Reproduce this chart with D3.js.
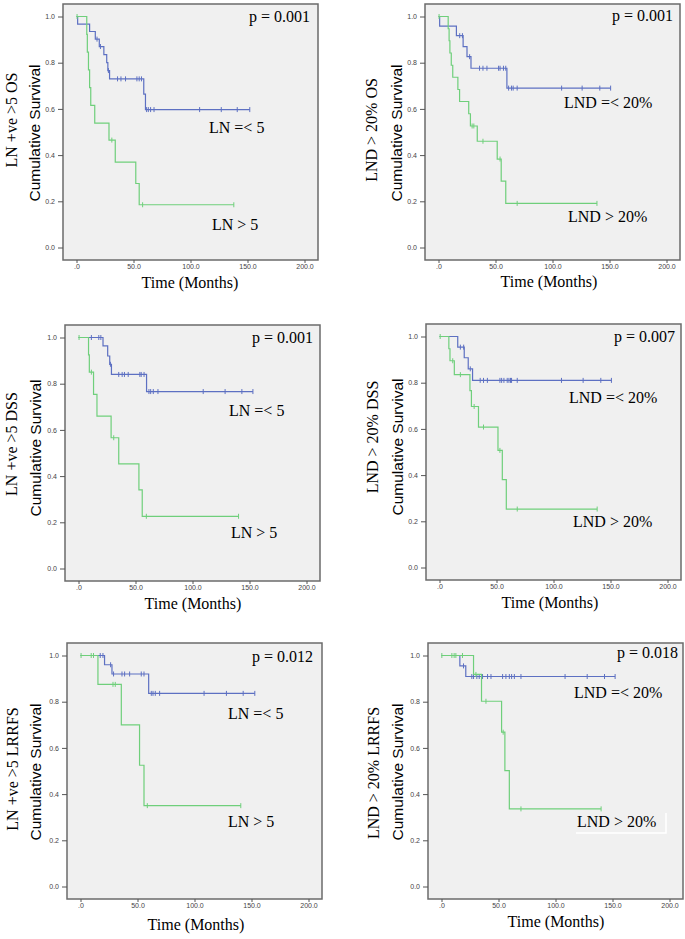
<!DOCTYPE html>
<html>
<head>
<meta charset="utf-8">
<script src="https://cdn.jsdelivr.net/npm/d3@7/dist/d3.min.js"></script>
<style>
  body { margin: 0; background: #fff; }
  svg { display: block; }
</style>
</head>
<body>
<svg id="chart" width="685" height="939"></svg>
<script>
// axis ticks
var timeTicks = [0, 50, 100, 150, 200];
var survTicks = [0, 0.2, 0.4, 0.6, 0.8, 1.0];

// panel texts (row by row, left then right)
var panelNames = ["LN +ve >5 OS", "LND > 20% OS", "LN +ve >5 DSS", "LND > 20% DSS", "LN +ve >5 LRRFS", "LND > 20% LRRFS"];
var pValues = ["p = 0.001", "p = 0.001", "p = 0.001", "p = 0.007", "p = 0.012", "p = 0.018"];
var lowLabels = ["LN =< 5", "LND =< 20%", "LN =< 5", "LND =< 20%", "LN =< 5", "LND =< 20%"];
var highLabels = ["LN > 5", "LND > 20%", "LN > 5", "LND > 20%", "LN > 5", "LND > 20%"];

// Kaplan-Meier steps [month, survival] and censored months
// OS, LN +ve
var osLnLowSteps = [[0,1],[1,0.967],[11.5,0.935],[16.5,0.902],[20,0.87],[24,0.835],[26.5,0.80],[27.5,0.766],[29,0.73],[59,0.664],[60.5,0.597]];
var osLnLowCens = [18,21,28,36,39,43,53,55,57,61.5,63,65,68,108,127,141,152];
var osLnHighSteps = [[0,1],[9,0.923],[9.5,0.846],[10.5,0.769],[11.5,0.692],[12.5,0.615],[16,0.538],[28.5,0.465],[34,0.37],[52,0.277],[55,0.185]];
var osLnHighCens = [0.5,31,58,138];
// OS, LND
var osLndLowSteps = [[0,1],[1,0.958],[15.7,0.917],[21.6,0.87],[25,0.826],[28.5,0.776],[60,0.69]];
var osLndLowCens = [18.6,21,27.3,36,39,42.5,52.7,54,57,59,61.5,64,65.5,69,108,126,141.5,151];
var osLndHighSteps = [[0,1],[8.5,0.947],[9.3,0.895],[10,0.842],[11.2,0.789],[12.5,0.737],[17,0.684],[18.5,0.632],[26.5,0.579],[28,0.526],[34,0.46],[51.5,0.383],[55,0.287],[59,0.191]];
var osLndHighCens = [0.5,29.5,31,39,54,69,139];
// DSS, LN +ve
var dssLnLowSteps = [[0,1],[21.5,0.964],[25.6,0.92],[27.4,0.884],[28.9,0.84],[59.7,0.766]];
var dssLnLowCens = [11.3,17.8,19.6,28,35.3,38.3,40.3,43.6,53.8,55,57.5,61.8,63.3,65.6,69.7,109.4,128.6,143.3,153];
var dssLnHighSteps = [[0,1],[8.8,0.925],[9.5,0.85],[13.2,0.754],[16.2,0.66],[28.6,0.566],[35.3,0.453],[53,0.34],[55.9,0.226]];
var dssLnHighCens = [0.5,11.3,30.9,59.5,140.4];
// DSS, LND
var dssLndLowSteps = [[0,1],[16,0.954],[21.7,0.908],[25.2,0.86],[29,0.81]];
var dssLndLowCens = [18.3,21.2,27,35.7,38.6,42,53,54.5,56.5,59.4,60.9,62.3,63.2,68.2,107,126,141.5,150.8];
var dssLndHighSteps = [[0,1],[8.2,0.947],[9.2,0.895],[13,0.835],[26.7,0.766],[28,0.697],[34.2,0.608],[51.3,0.507],[55.1,0.38],[58.6,0.253]];
var dssLndHighCens = [0.6,11.6,18.3,30.4,38.6,53,68.2,138.3];
// LRRFS, LN +ve
var lrrfsLnLowSteps = [[0,1],[21.1,0.96],[27.6,0.92],[59.8,0.836]];
var lrrfsLnLowCens = [17.3,19.7,26.4,29,36.4,38.7,43.1,53.3,55.7,62.1,63.6,65.6,69.4,108.4,128,142.7,152.9];
var lrrfsLnHighSteps = [[0,1],[15.3,0.875],[35.8,0.70],[51.8,0.525],[55.7,0.35]];
var lrrfsLnHighCens = [0.5,9.4,11.4,28.5,30.5,58.6,140.6];
// LRRFS, LND
var lrrfsLndLowSteps = [[0,1],[16.1,0.955],[21.3,0.909]];
var lrrfsLndLowCens = [19.3,26.6,28.1,31,33.1,36,40.4,43.4,53.6,56.5,59.5,61.5,63.9,69.7,108.4,127.8,143,152.3];
var lrrfsLndHighSteps = [[0,1],[28.1,0.918],[35.1,0.802],[52.7,0.668],[55.6,0.502],[59.5,0.336]];
var lrrfsLndHighCens = [0.3,9.1,11.1,12.6,18.4,30.2,39,54.1,69.7,140];

var lowCurves = [[osLnLowSteps, osLnLowCens], [osLndLowSteps, osLndLowCens], [dssLnLowSteps, dssLnLowCens],
                 [dssLndLowSteps, dssLndLowCens], [lrrfsLnLowSteps, lrrfsLnLowCens], [lrrfsLndLowSteps, lrrfsLndLowCens]];
var highCurves = [[osLnHighSteps, osLnHighCens], [osLndHighSteps, osLndHighCens], [dssLnHighSteps, dssLnHighCens],
                  [dssLndHighSteps, dssLndHighCens], [lrrfsLnHighSteps, lrrfsLnHighCens], [lrrfsLndHighSteps, lrrfsLndHighCens]];

// where each panel sits on the page
var layout = [
  {left:63, top:4, pX:310, pY:22, lowX:209, lowY:133, highX:212, highY:230, nameX:17, nameY:120, cumX:40, cumY:133, timeX:190, timeY:288},
  {left:425, top:4, pX:673, pY:21, lowX:564, lowY:108, highX:568, highY:222, nameX:377, nameY:130, cumX:402, cumY:133, timeX:549, timeY:287},
  {left:65, top:325, pX:313, pY:343, lowX:229, lowY:416, highX:231, highY:538, nameX:17, nameY:444, cumX:41, cumY:448, timeX:193, timeY:609},
  {left:426, top:324, pX:675, pY:342, lowX:569, lowY:403, highX:573, highY:527, nameX:378, nameY:437, cumX:403, cumY:447, timeX:550, timeY:608},
  {left:67, top:643, pX:313, pY:662, lowX:228, lowY:719, highX:228, highY:827, nameX:18, nameY:769, cumX:41, cumY:772, timeX:196, timeY:930},
  {left:428, top:643, pX:678, pY:658, lowX:574, lowY:698, highX:577, highY:827, nameX:379, nameY:773, cumX:403, cumY:772, timeX:556, timeY:927}
];
var boxW = 255, boxH = 256;
var blue = "#5d70c2", green = "#6fcf7b";

var svg = d3.select("#chart");

function survAt(steps, t){ // value of the step curve at month t
  var s = 1;
  steps.forEach(function(d){ if (d[0] <= t) s = d[1]; });
  return s;
}

function drawCurve(g, x, y, curve, color){
  var steps = curve[0], cens = curve[1];
  var end = d3.max(cens);
  var pts = steps.concat([[end, steps[steps.length - 1][1]]]);
  var line = d3.line()
    .x(function(d){ return x(d[0]); })
    .y(function(d){ return y(d[1]); })
    .curve(d3.curveStepAfter);
  g.append("path")
    .attr("d", line(pts))
    .attr("fill", "none")
    .attr("stroke", color)
    .attr("stroke-width", 1.2);
  g.selectAll(null)
    .data(cens)
    .enter().append("line")
    .attr("x1", function(d){ return x(d); })
    .attr("x2", function(d){ return x(d); })
    .attr("y1", function(d){ return y(survAt(steps, d)) - 2.5; })
    .attr("y2", function(d){ return y(survAt(steps, d)) + 2.5; })
    .attr("stroke", color)
    .attr("stroke-width", 1);
}

function drawPanel(i){
  var L = layout[i];
  var g = svg.append("g");
  var x = d3.scaleLinear().domain([0, 200]).range([L.left + 13.5, L.left + 241.5]);
  var y = d3.scaleLinear().domain([0, 1]).range([L.top + 243.5, L.top + 12.5]);

  g.append("rect")
    .attr("x", L.left).attr("y", L.top)
    .attr("width", boxW).attr("height", boxH)
    .attr("fill", "#f0f0f0")
    .attr("stroke", "#6b6b6b")
    .attr("stroke-width", 1.5);

  var yAxis = g.append("g")
    .attr("transform", "translate(" + L.left + ",0)")
    .call(d3.axisLeft(y).tickValues(survTicks).tickFormat(d3.format(".1f")).tickSize(5).tickPadding(3));
  var xAxis = g.append("g")
    .attr("transform", "translate(0," + (L.top + boxH) + ")")
    .call(d3.axisBottom(x).tickValues(timeTicks)
      .tickFormat(function(d){ return d === 0 ? ".0" : d.toFixed(1); })
      .tickSize(3).tickPadding(1));
  [yAxis, xAxis].forEach(function(a){
    a.select(".domain").remove();
    a.selectAll("line").attr("stroke", "#555");
    a.selectAll("text").attr("fill", "#444")
      .style("font-family", "'Liberation Sans', Arial, sans-serif").style("font-size", "7px");
  });

  drawCurve(g, x, y, lowCurves[i], blue);
  drawCurve(g, x, y, highCurves[i], green);

  var serif = "'Liberation Serif', 'Times New Roman', serif";
  g.append("text").attr("x", L.pX).attr("y", L.pY).attr("text-anchor", "end")
    .style("font-family", serif).style("font-size", "16px").text(pValues[i]);
  g.append("text").attr("x", L.lowX).attr("y", L.lowY)
    .style("font-family", serif).style("font-size", "16px").text(lowLabels[i]);
  g.append("text").attr("x", L.highX).attr("y", L.highY)
    .style("font-family", serif).style("font-size", "16px").text(highLabels[i]);

  g.append("text")
    .attr("transform", "translate(" + L.nameX + "," + L.nameY + ") rotate(-90)")
    .attr("text-anchor", "middle")
    .style("font-family", serif).style("font-size", "16px").text(panelNames[i]);
  g.append("text")
    .attr("transform", "translate(" + L.cumX + "," + L.cumY + ") rotate(-90)")
    .attr("text-anchor", "middle")
    .style("font-family", "'Liberation Sans', Arial, sans-serif").style("font-size", "15.5px")
    .text("Cumulative Survival");
  g.append("text")
    .attr("x", L.timeX).attr("y", L.timeY).attr("text-anchor", "middle")
    .style("font-family", serif).style("font-size", "16px").text("Time (Months)");
}

for (var i = 0; i < layout.length; i++) drawPanel(i);

// leftover white text-box border around the last label
svg.append("path")
  .attr("d", "M576,833 H666 V813")
  .attr("fill", "none")
  .attr("stroke", "#fff")
  .attr("stroke-width", 1.5);
</script>
</body>
</html>
